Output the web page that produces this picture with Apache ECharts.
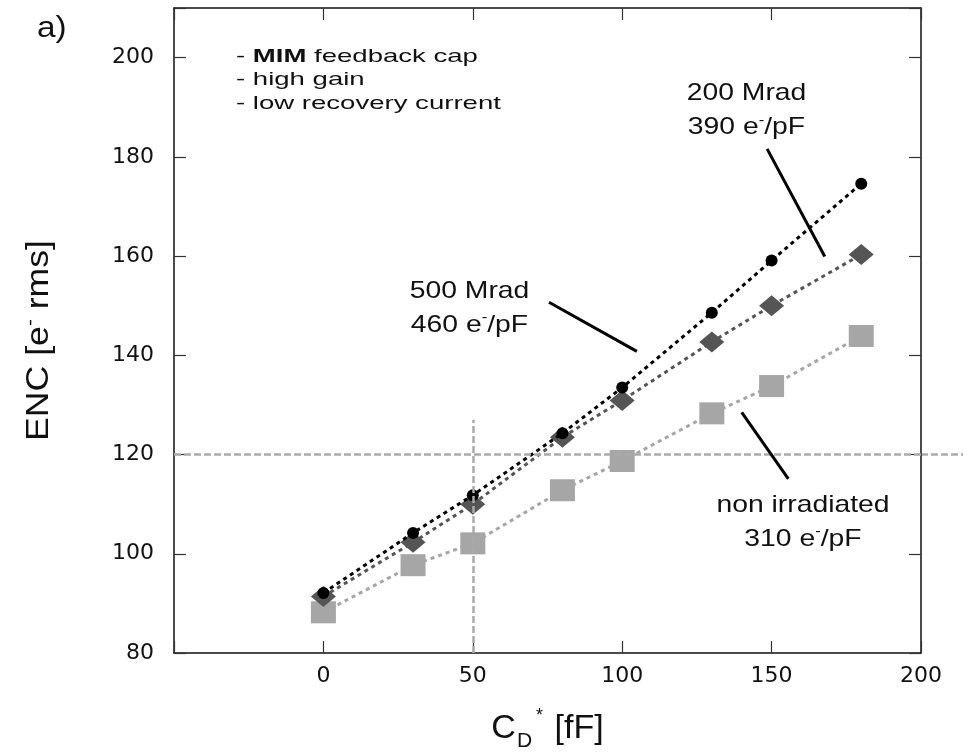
<!DOCTYPE html>
<html>
<head>
<meta charset="utf-8">
<script src="https://cdn.jsdelivr.net/npm/echarts@6/dist/echarts.min.js"></script>
<style>
  html, body { margin: 0; padding: 0; background: #fff; }
  #main { width: 963px; height: 752px; }
</style>
</head>
<body>
<div id="main"></div>
<script>
// 数据
var capX = [0, 30, 50, 80, 100, 130, 150, 180];
var enc500 = [92.1, 104.2, 111.8, 124.3, 133.5, 148.6, 159.1, 174.6];
var enc200 = [91.4, 102.3, 110.0, 123.5, 130.9, 142.7, 150.0, 160.3];
var encNon = [88.2, 97.7, 102.1, 112.8, 118.7, 128.3, 133.8, 143.9];

var yTicks = [80, 100, 120, 140, 160, 180, 200];

// 注释文字 (数据坐标, 文字中心)
var annotText = [
  { pos: [141.6, 189.3], l1: '200 Mrad', l2: '390 e' },
  { pos: [48.9, 149.5], l1: '500 Mrad', l2: '460 e' },
  { pos: [160.5, 106.4], l1: 'non irradiated', l2: '310 e' }
];
// 注释引线
var leaderLines = [
  [[148.5, 181.6], [167.8, 159.9]],
  [[75.5, 150.7], [104.9, 140.8]],
  [[140.0, 128.5], [155.6, 115.1]]
];
// 参考虚线
var refX = 50, refXTop = 127;
var refY = 120;

var font = '"Liberation Sans", Arial, Helvetica, sans-serif';
var tickFont = '"DejaVu Sans", sans-serif';
var chart = echarts.init(document.getElementById('main'));

function axisBase(pos, isX) {
  return {
    type: 'value',
    position: pos,
    min: isX ? -50 : 80,
    max: isX ? 200 : 210,
    interval: isX ? 50 : 20,
    splitLine: { show: false },
    axisLine: { show: true, onZero: false, lineStyle: { color: '#111', width: 1.5 } },
    axisTick: { show: true, inside: true, length: 12, lineStyle: { color: '#333', width: 1.2 } }
  };
}

var xBottom = axisBase('bottom', true);
xBottom.axisLabel = {
  fontFamily: tickFont, fontSize: 22, color: '#111', margin: 12,
  formatter: function (v) { return v === -50 ? '' : v; }
};
xBottom.name = '{c|C}{d|D}{a|*}{c| [fF]}';
xBottom.nameLocation = 'middle';
xBottom.nameGap = 52;
xBottom.nameTextStyle = {
  fontFamily: font, color: '#111',
  rich: {
    c: { fontFamily: font, fontSize: 34, color: '#111' },
    d: { fontFamily: font, fontSize: 21, color: '#111', padding: [26, 0, 0, 1] },
    a: { fontFamily: font, fontSize: 18, color: '#111', padding: [0, 2, 24, 4] }
  }
};
var xTop = axisBase('top', true);
xTop.axisLabel = { show: false };

var yLeft = axisBase('left', false);
yLeft.axisLabel = {
  fontFamily: tickFont, fontSize: 22, color: '#111', margin: 20,
  formatter: function (v) { return yTicks.indexOf(v) >= 0 ? v : ''; }
};
var yRight = axisBase('right', false);
yRight.axisLabel = { show: false };

var dotLine = function (c) {
  return { color: c, width: 3, type: [4, 4] };
};

chart.setOption({
  animation: false,
  backgroundColor: '#fff',
  grid: { left: 174, right: 42, top: 8, bottom: 99, outerBoundsMode: 'none', containLabel: false },
  xAxis: [xBottom, xTop],
  yAxis: [yLeft, yRight],
  series: [
    {
      name: 'ref', type: 'scatter', data: [], silent: true,
      markLine: {
        silent: true, symbol: 'none', animation: false,
        label: { show: false },
        lineStyle: { color: '#aaa', width: 2.5, type: [7, 3] },
        data: [
          [{ coord: [refX, 80] }, { coord: [refX, refXTop] }],
          [{ coord: [-50, refY] }, { coord: [200, refY] }]
        ]
      }
    },
    {
      name: 'non irradiated', type: 'line',
      data: capX.map(function (x, i) { return [x, encNon[i]]; }),
      symbol: 'rect', symbolSize: [25, 22],
      itemStyle: { color: '#a6a6a6' },
      lineStyle: dotLine('#a6a6a6'),
      z: 2
    },
    {
      name: '200 Mrad', type: 'line',
      data: capX.map(function (x, i) { return [x, enc200[i]]; }),
      symbol: 'diamond', symbolSize: [25, 21],
      itemStyle: { color: '#555' },
      lineStyle: dotLine('#555'),
      z: 3
    },
    {
      name: '500 Mrad', type: 'line',
      data: capX.map(function (x, i) { return [x, enc500[i]]; }),
      symbol: 'circle', symbolSize: 12,
      itemStyle: { color: '#000' },
      lineStyle: dotLine('#000'),
      z: 4
    },
    {
      name: 'leader', type: 'scatter', data: [], silent: true,
      markLine: {
        silent: true, symbol: 'none', animation: false,
        label: { show: false },
        lineStyle: { color: '#000', width: 3, type: 'solid' },
        data: leaderLines.map(function (l) { return [{ coord: l[0] }, { coord: l[1] }]; })
      }
    }
  ]
});

// 文字注释 (用 graphic, 横向拉伸)
var gridEnd = chart.convertToPixel({ gridIndex: 0 }, [200, refY]);
var midY = chart.convertToPixel({ gridIndex: 0 }, [-50, 145])[1];

var graphics = [
  { type: 'text', x: 37, y: 14, scaleX: 1.15,
    style: { text: 'a)', font: '29px ' + font, fill: '#111', verticalAlign: 'top' } },
  {
    type: 'text', x: 236, y: 45, scaleX: 1.45,
    style: {
      text: '{n|- }{b|MIM}{n| feedback cap}\n{n|- high gain}\n{n|- low recovery current}',
      verticalAlign: 'top',
      rich: {
        n: { fontFamily: font, fontSize: 19, fill: '#111', lineHeight: 23.5 },
        b: { fontFamily: font, fontSize: 19, fill: '#111', fontWeight: 'bold', lineHeight: 23.5 }
      }
    }
  },
  // y 轴标题
  {
    type: 'text', x: 39, y: midY + 10, rotation: Math.PI / 2, scaleX: 1.15,
    style: {
      text: '{t|ENC [e}{s|-}{t| rms]}',
      align: 'center', verticalAlign: 'middle',
      rich: {
        t: { fontFamily: font, fontSize: 31, fill: '#111' },
        s: { fontFamily: font, fontSize: 18, fill: '#111', padding: [0, 0, 16, 0] }
      }
    }
  },
  // 120 参考线延伸到右边
  {
    type: 'line', silent: true,
    shape: { x1: gridEnd[0], y1: gridEnd[1], x2: 963, y2: gridEnd[1] },
    style: { stroke: '#aaa', lineWidth: 2.5, lineDash: [7, 3] }
  }
];
annotText.forEach(function (a) {
  var p = chart.convertToPixel({ gridIndex: 0 }, a.pos);
  graphics.push({
    type: 'text', x: p[0], y: p[1], scaleX: 1.18,
    style: {
      text: '{t|' + a.l1 + '}\n{t|' + a.l2 + '}{s|-}{t|/pF}',
      align: 'center', verticalAlign: 'middle',
      rich: {
        t: { fontFamily: font, fontSize: 24, fill: '#111', lineHeight: 34 },
        s: { fontFamily: font, fontSize: 14, fill: '#111', padding: [0, 0, 14, 0], lineHeight: 34 }
      }
    }
  });
});
chart.setOption({ graphic: graphics });
</script>
</body>
</html>
